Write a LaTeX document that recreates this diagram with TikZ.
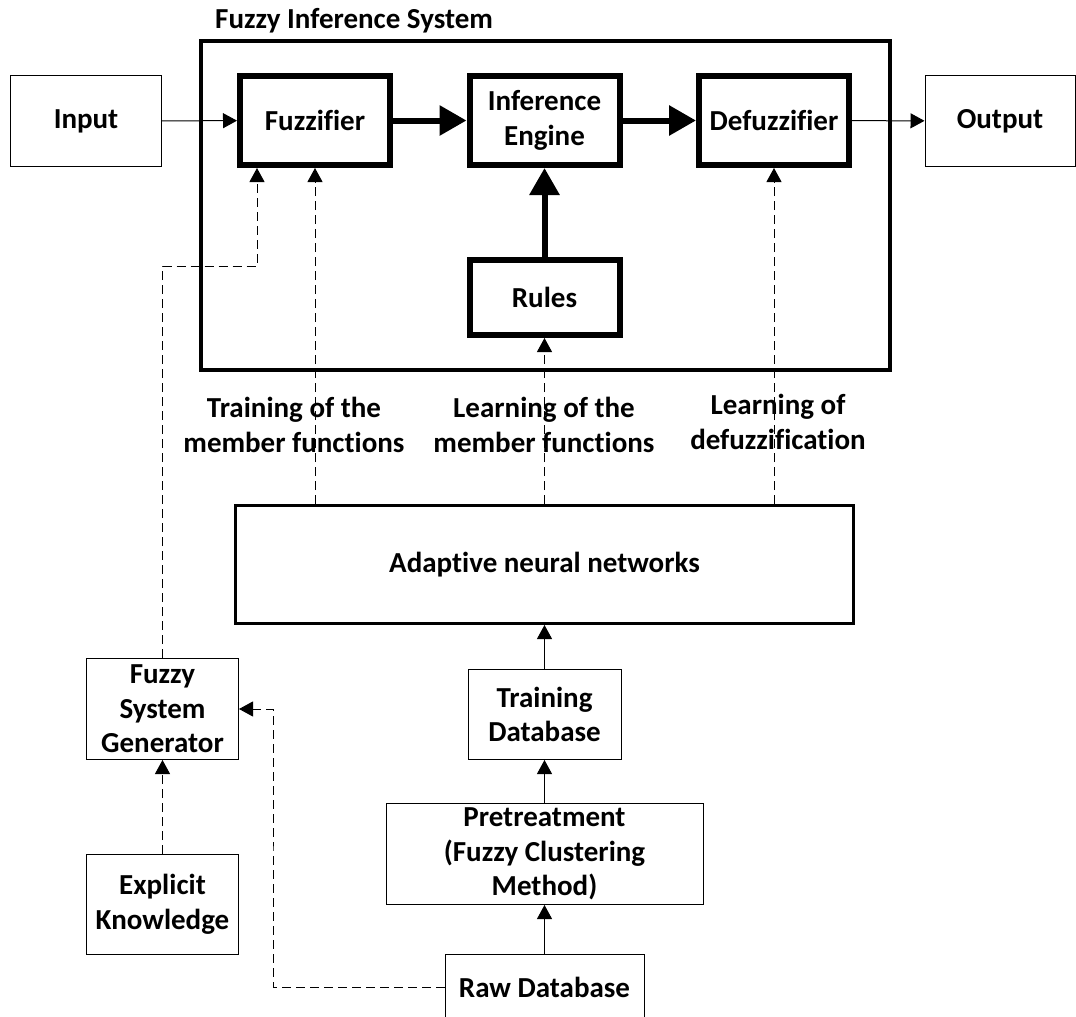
\documentclass[tikz,border=0pt]{standalone}
\usepackage{fontspec}
\setmainfont{Carlito}[Ligatures=NoCommon]
\usetikzlibrary{arrows.meta,positioning,calc}
\tikzset{
  txt/.style={font=\bfseries\fontsize{29}{34.5}\selectfont},
  ar/.style={-{Triangle[length=14pt,width=15pt]},line width=1pt},
  tar/.style={-{Triangle[length=27pt,width=29pt]},line width=6pt},
  dar/.style={ar,dash pattern=on 9pt off 5pt},
  box/.style={draw,line width=1pt,align=center,inner sep=2pt,txt},
  fbox/.style={box,line width=6pt,minimum width=150pt,minimum height=89pt},
  lbl/.style={align=center,inner sep=0pt,txt}
}
\begin{document}
\begin{tikzpicture}[x=1pt,y=-1pt]
\useasboundingbox (0,0) rectangle (1076,1017);
% fuzzy inference system
\node[draw,line width=3.5pt,minimum width=689pt,minimum height=329pt,inner sep=0pt] (fis) at (545.5,205.5) {};
\node[lbl,anchor=west] (fistitle) at (215,21) {Fuzzy Inference System};
\node[box,minimum width=151pt,minimum height=91pt] (inp) at (86,121) {Input};
\node[fbox] (fuzz) at (315,120.5) {Fuzzifier};
\node[fbox] (ie) at (544.5,120.5) {Inference\\Engine};
\node[fbox] (defz) at (774,120.5) {Defuzzifier};
\node[box,minimum width=150pt,minimum height=91pt] (outp) at (1000,121) {Output};
\node[fbox,minimum height=75pt] (rules) at (544.5,297.5) {Rules};
% learning part
\node[lbl] (lbA) at (294,425) {Training of the\\member functions};
\node[lbl] (lbB) at (544,425) {Learning of the\\member functions};
\node[lbl] (lbC) at (778,422) {Learning of\\defuzzification};
\node[box,line width=3pt,minimum width=618pt,minimum height=118pt] (ann) at (544.5,564.5) {Adaptive neural networks};
\node[box,minimum width=152pt,minimum height=101pt] (fsg) at (162.5,709) {Fuzzy\\System\\Generator};
\node[box,minimum width=152pt,minimum height=100pt] (ek) at (162.5,904.5) {Explicit\\Knowledge};
\node[box,minimum width=153pt,minimum height=90pt] (tdb) at (544.5,714.5) {Training\\Database};
\node[box,minimum width=317pt,minimum height=101pt] (pre) at (544.5,854) {Pretreatment\\(Fuzzy Clustering\\Method)};
\node[box,minimum width=199pt,minimum height=66pt] (raw) at (544.5,987) {Raw Database};
\coordinate (kA) at (257,266);
\coordinate (kB) at (273,850);
% connectors
\draw[ar] (inp) -- (fuzz);
\draw[tar] (fuzz) -- (ie);
\draw[tar] (ie) -- (defz);
\draw[ar] (defz) -- (outp);
\draw[tar] (rules) -- (ie);
\draw[dar] (ann.north -| fuzz) -- (fuzz.south);
\draw[dar] (ann.north -| rules) -- (rules.south);
\draw[dar] (ann.north -| defz) -- (defz.south);
\draw[dar] (fsg.north) |- (kA) -- (kA |- fuzz.south);
\draw[dar] (ek) -- (fsg);
\draw[dar] (raw.west) -| (kB) |- (fsg.east);
\draw[ar] (raw) -- (pre);
\draw[ar] (pre) -- (tdb);
\draw[ar] (tdb) -- (ann);
\end{tikzpicture}
\end{document}
